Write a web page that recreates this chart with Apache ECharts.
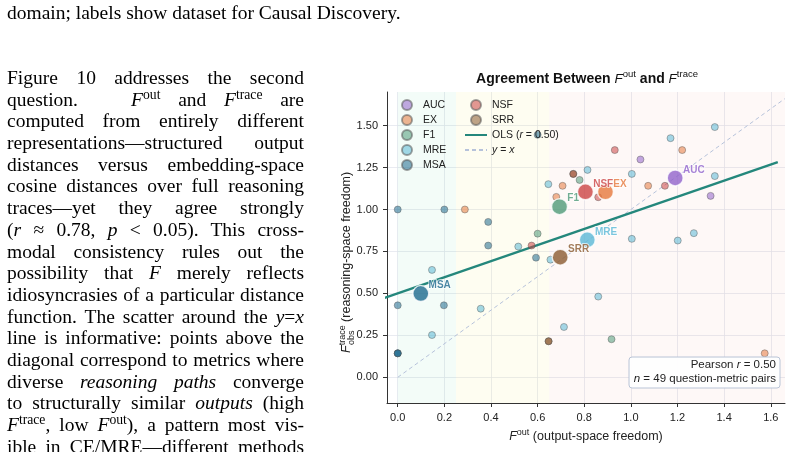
<!DOCTYPE html>
<html>
<head>
<meta charset="utf-8">
<title>F out vs F trace</title>
<script src="https://cdn.jsdelivr.net/npm/echarts@6.0.0/dist/echarts.min.js"></script>
<style>
html, body { margin: 0; padding: 0; background: #fff; }
#page { position: relative; width: 795px; height: 452px; overflow: hidden; }
#chart { position: absolute; left: 0; top: 0; width: 795px; height: 452px; }
.serif { position: absolute; left: 7px; font-family: "Liberation Serif", "Times New Roman", serif; font-size: 19.5px; line-height: 21.7px; color: #000; }
.cap { top: 2px; white-space: nowrap; }
.para { top: 67px; width: 297px; }
.para div { height: 21.7px; text-align: justify; text-align-last: justify; }
.para sup { font-size: 70%; line-height: 0; vertical-align: 0.5em; }
</style>
</head>
<body>
<div id="page">
	<div id="chart"></div>
	<div class="serif cap">domain; labels show dataset for Causal Discovery.</div>
	<div class="serif para">
		<div>Figure 10 addresses the second</div>
		<div>question. &nbsp; <i>F</i><sup>out</sup> and <i>F</i><sup>trace</sup> are</div>
		<div>computed from entirely different</div>
		<div>representations—structured output</div>
		<div>distances versus embedding-space</div>
		<div>cosine distances over full reasoning</div>
		<div>traces—yet they agree strongly</div>
		<div>(<i>r</i> ≈ 0.78, <i>p</i> &lt; 0.05). This cross-</div>
		<div>modal consistency rules out the</div>
		<div>possibility that <i>F</i> merely reflects</div>
		<div>idiosyncrasies of a particular distance</div>
		<div>function. The scatter around the <i>y</i>=<i>x</i></div>
		<div>line is informative: points above the</div>
		<div>diagonal correspond to metrics where</div>
		<div>diverse <i>reasoning paths</i> converge</div>
		<div>to structurally similar <i>outputs</i> (high</div>
		<div><i>F</i><sup>trace</sup>, low <i>F</i><sup>out</sup>), a pattern most vis-</div>
		<div>ible in CE/MRE—different methods</div>
	</div>
</div>
<script>
// metrics + colours
var metrics = ['AUC', 'EX', 'F1', 'MRE', 'MSA', 'NSF', 'SRR'];
var metricColors = ['#9163cb', '#e6783c', '#4f9a78', '#5ab8d6', '#1e6a8e', '#cc4444', '#8b5a30'];

// question-level points [F_out, F_trace_obs]
var aucPoints = [[1.041, 1.298], [1.342, 1.081]];
var exPoints = [[0.288, 1.0], [0.707, 1.141], [0.68, 1.075], [1.22, 1.354], [1.074, 1.141], [1.574, 0.143]];
var f1Points = [[0.60, 0.856], [0.78, 1.176], [0.917, 0.227]];
var mrePoints = [[0.517, 0.779], [0.646, 1.151], [0.814, 1.236], [1.36, 1.491], [1.17, 1.425], [1.004, 1.212],
	[1.36, 1.199], [1.004, 0.825], [1.201, 0.815], [1.27, 0.859], [0.147, 0.640], [0.356, 0.409],
	[0.147, 0.252], [0.713, 0.300], [0.655, 0.701], [0.86, 0.481]];
var msaPoints = [[0, 1.0], [0.2, 1.0], [0.388, 0.926], [0.388, 0.785], [0, 0.429], [0.198, 0.429],
	[0, 0.143], [0, 0.143], [0, 0.143], [0.593, 0.713], [0.60, 1.445]];
var nsfPoints = [[0.574, 0.785], [0.753, 1.212], [0.931, 1.354], [1.146, 1.141], [0.86, 1.073]];
var srrPoints = [[0.753, 1.212], [0.647, 0.215], [0.647, 0.215]];

// metric means (big markers)
var meanOut = [1.19, 0.891, 0.694, 0.813, 0.099, 0.805, 0.697];
var meanTrace = [1.188, 1.105, 1.017, 0.819, 0.499, 1.105, 0.716];

// OLS fit and identity line end points
var olsLine = [[-0.06, 0.471], [1.63, 1.282]];
var identityLine = [[0, 0], [1.66, 1.66]];

// shaded F_out regimes
var bandEdges = [[0, 0.25], [0.25, 0.65], [0.65, 1.661]];
var bandColors = ['rgba(46,204,140,0.06)', 'rgba(240,220,60,0.07)', 'rgba(230,110,100,0.05)'];

var xTicks = [0, 0.2, 0.4, 0.6, 0.8, 1.0, 1.2, 1.4, 1.6];
var yTicks = [0, 0.25, 0.5, 0.75, 1.0, 1.25, 1.5];
var pearsonR = 0.50;
var pairCount = 49;

var font = 'Liberation Sans, Arial, sans-serif';
var ink = '#222';
var pointSets = [aucPoints, exPoints, f1Points, mrePoints, msaPoints, nsfPoints, srrPoints];
var noDot = { color: 'rgba(0,0,0,0)', borderWidth: 0 };

var chart = echarts.init(document.getElementById('chart'));

var series = [];
//y = x 虚线 + 背景色带
series.push({
	name: 'y=x',
	type: 'line',
	data: identityLine,
	symbol: 'none',
	silent: true,
	z: 1,
	lineStyle: { color: '#b6c2da', width: 1, type: [4, 3] },
	markArea: {
		silent: true,
		data: bandEdges.map(function(e, i) {
			return [{ xAxis: e[0], itemStyle: { color: bandColors[i] } }, { xAxis: e[1] }];
		})
	}
});
//OLS
series.push({
	name: 'OLS',
	type: 'line',
	data: olsLine,
	symbol: 'none',
	silent: true,
	z: 2,
	lineStyle: { color: '#24877c', width: 2.4 }
});
//small points
for(var i = 0; i < metrics.length; i++) {
	series.push({
		name: metrics[i],
		type: 'scatter',
		data: pointSets[i],
		symbolSize: 7,
		z: 3,
		itemStyle: { color: metricColors[i], opacity: 0.55, borderColor: '#555', borderWidth: 0.8 }
	});
}
//metric means
series.push({
	name: 'mean',
	type: 'scatter',
	z: 4,
	symbolSize: 16,
	data: metrics.map(function(m, i) {
		return {
			name: m,
			value: [meanOut[i], meanTrace[i]],
			itemStyle: { color: metricColors[i], borderColor: '#fff', borderWidth: 1.5 },
			label: { color: metricColors[i] }
		};
	}),
	label: {
		show: true,
		formatter: '{b}',
		position: 'right',
		distance: 0,
		offset: [-1, -8],
		fontSize: 10,
		fontWeight: 'bold',
		fontFamily: font,
		textBorderColor: '#fff',
		textBorderWidth: 1.5
	}
});

var legendText = {
	fontSize: 10.5, color: ink, lineHeight: 12, fontFamily: font,
	rich: { i: { fontStyle: 'italic', fontSize: 10.5, lineHeight: 12, fontFamily: font, color: ink } }
};
var supRich = {
	i: { fontStyle: 'italic', fontWeight: 'normal', fontSize: 13.5, lineHeight: 20, fontFamily: font, fill: '#111', color: '#111' },
	sup: { fontSize: 9.5, fontWeight: 'normal', lineHeight: 11, verticalAlign: 'top', fontFamily: font, fill: '#111', color: '#111' }
};

chart.setOption({
	animation: false,
	textStyle: { fontFamily: font },
	grid: { left: 387, top: 92, width: 398, height: 311, containLabel: false },
	xAxis: {
		type: 'value',
		min: -0.046,
		max: 1.661,
		axisLine: { show: true, onZero: false, lineStyle: { color: '#333', width: 1 } },
		axisTick: { show: true, length: 4, customValues: xTicks, lineStyle: { color: '#333' } },
		axisLabel: { customValues: xTicks, fontSize: 11, color: ink, margin: 9, formatter: function(v) { return v.toFixed(1); } },
		splitLine: { show: true, lineStyle: { color: '#e3e6ee', width: 0.8 } },
		name: '{i|F}{sup|out} (output-space freedom)',
		nameLocation: 'middle',
		nameGap: 20,
		nameTextStyle: {
			fontSize: 12.5, color: ink, lineHeight: 18,
			rich: {
				i: { fontStyle: 'italic', fontSize: 12.5, lineHeight: 18, color: ink },
				sup: { fontSize: 9, lineHeight: 10, verticalAlign: 'top', color: ink }
			}
		}
	},
	yAxis: {
		type: 'value',
		min: -0.153,
		max: 1.70,
		axisLine: { show: true, onZero: false, lineStyle: { color: '#333', width: 1 } },
		axisTick: { show: true, length: 4, customValues: yTicks, lineStyle: { color: '#333' } },
		axisLabel: { customValues: yTicks, fontSize: 11, color: ink, margin: 9, formatter: function(v) { return v.toFixed(2); } },
		splitLine: { show: true, lineStyle: { color: '#e3e6ee', width: 0.8 } }
	},
	legend: [{
		data: metrics.slice(0, 5),
		orient: 'vertical',
		left: 401,
		top: 99,
		padding: 0,
		itemWidth: 22,
		itemHeight: 10,
		itemGap: 3,
		selectedMode: false,
		textStyle: legendText
	}, {
		data: ['NSF', 'SRR', { name: 'OLS', itemStyle: noDot }, { name: 'y=x', itemStyle: noDot }],
		orient: 'vertical',
		left: 464,
		top: 99,
		padding: 0,
		itemWidth: 22,
		itemHeight: 10,
		itemGap: 3,
		selectedMode: false,
		textStyle: legendText,
		formatter: function(name) {
			if(name === 'OLS') return 'OLS ({i|r} = ' + pearsonR.toFixed(2) + ')';
			if(name === 'y=x') return '{i|y} = {i|x}';
			return name;
		}
	}],
	graphic: [{
		//标题
		type: 'text',
		x: 587,
		y: 79,
		z: 100,
		style: {
			text: 'Agreement Between {i|F}{sup|out} and {i|F}{sup|trace}',
			fontSize: 14,
			fontWeight: 'bold',
			fontFamily: font,
			lineHeight: 20,
			fill: '#111',
			align: 'center',
			verticalAlign: 'middle',
			rich: supRich
		}
	}, {
		//y轴名称
		type: 'group',
		x: 347,
		y: 252,
		rotation: Math.PI / 2,
		z: 100,
		children: [{
			type: 'text',
			x: -101,
			y: 0,
			style: {
				text: '{i|F}{sup|trace} (reasoning-space freedom)',
				fontSize: 12.5,
				fontFamily: font,
				lineHeight: 18,
				fill: ink,
				align: 'left',
				verticalAlign: 'middle',
				rich: {
					i: { fontStyle: 'italic', fontSize: 12.5, lineHeight: 18, fontFamily: font, fill: ink },
					sup: { fontSize: 9, lineHeight: 10, verticalAlign: 'top', fontFamily: font, fill: ink }
				}
			}
		}, {
			type: 'text',
			x: -93,
			y: 4.5,
			style: { text: 'obs', fontSize: 9, fontFamily: font, fill: ink, align: 'left', verticalAlign: 'middle' }
		}]
	}, {
		//右下角统计框
		type: 'rect',
		z: 100,
		shape: { x: 629, y: 357, width: 151, height: 31, r: 3 },
		style: { fill: 'rgba(255,255,255,0.92)', stroke: '#b8c3d6', lineWidth: 1 }
	}, {
		type: 'text',
		x: 776,
		y: 364.5,
		z: 101,
		style: {
			text: 'Pearson {i|r} = ' + pearsonR.toFixed(2),
			fontSize: 11.5, fontFamily: font, fill: ink, align: 'right', verticalAlign: 'middle',
			rich: { i: { fontStyle: 'italic', fontSize: 11.5, fontFamily: font, fill: ink } }
		}
	}, {
		type: 'text',
		x: 776,
		y: 379,
		z: 101,
		style: {
			text: '{i|n} = ' + pairCount + ' question-metric pairs',
			fontSize: 11.5, fontFamily: font, fill: ink, align: 'right', verticalAlign: 'middle',
			rich: { i: { fontStyle: 'italic', fontSize: 11.5, fontFamily: font, fill: ink } }
		}
	}],
	series: series
});
</script>
</body>
</html>
